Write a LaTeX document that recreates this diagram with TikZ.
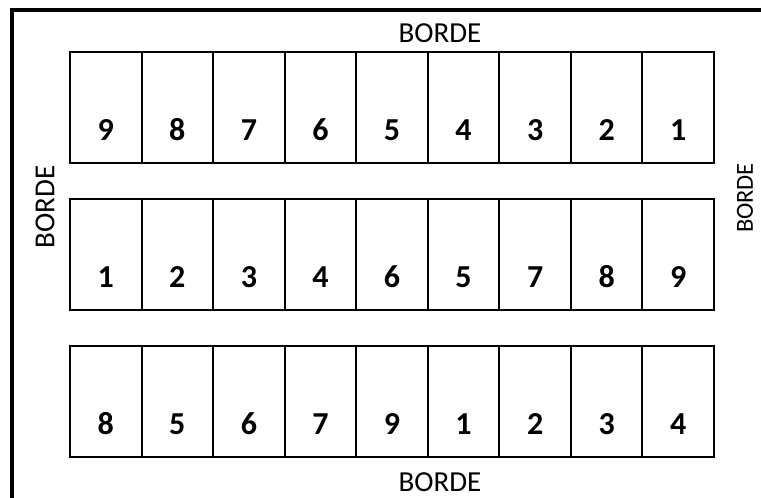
\documentclass[tikz,border=0pt]{standalone}
\usepackage{fontspec}
\setmainfont[Numbers=Lining]{Carlito}
\begin{document}
\begin{tikzpicture}[x=1pt,y=-1pt,
  cell/.style={draw,line width=2pt,minimum width=71.56pt,minimum height=111pt,inner sep=0pt,outer sep=0pt},
  num/.style={font=\fontsize{32}{32}\selectfont\bfseries,inner sep=0pt,anchor=center},
  borde/.style={font=\fontsize{29}{29}\selectfont,inner sep=0pt},
  frame/.style={line width=4pt}]
\useasboundingbox (0,0) rectangle (761,498);
\coordinate (fa) at (12,498);
\coordinate (fc) at (12,10);
\coordinate (fb) at (761,10);
\draw[frame] (fa) -- (fc) -- (fb);
\foreach \r/\top/\labs in {1/52/{9,8,7,6,5,4,3,2,1},2/199/{1,2,3,4,6,5,7,8,9},3/346/{8,5,6,7,9,1,2,3,4}}{
  \foreach \l [count=\c] in \labs {
    \node[cell] (c\r-\c) at ({70+71.56*(\c-0.5)},{\top+55.5}) {};
    \node[num] (n\r-\c) at ([yshift=-22.5pt]c\r-\c.center) {\l};
  }
}
\node[borde] (btop) at (440,33) {BORDE};
\node[borde] (bbot) at (440,482) {BORDE};
\node[borde,rotate=90] (bleft) at (45,207) {BORDE};
\node[borde,rotate=90,font=\fontsize{24.5}{24.5}\selectfont] (bright) at (745,198) {BORDE};
\end{tikzpicture}
\end{document}
